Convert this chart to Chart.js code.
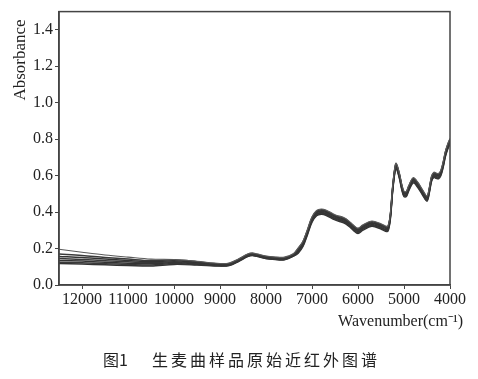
<!DOCTYPE html>
<html><head><meta charset="utf-8">
<script src="https://cdn.jsdelivr.net/npm/chart.js@4/dist/chart.umd.min.js"></script>
<style>
html,body{margin:0;padding:0;background:#fff;}
#wrap{position:relative;width:478px;height:379px;}
#cap{position:absolute;top:347px;left:0;width:478px;height:22px;font-family:"Noto Sans CJK SC";font-size:16px;color:#222;}
#cap span{position:absolute;top:0;white-space:nowrap;}
</style></head><body>
<div id="wrap"><canvas id="c" width="478" height="379"></canvas>
<div id="cap"><span style="left:103px">图1</span><span style="left:152px;letter-spacing:3px">生麦曲样品原始近红外图谱</span></div></div>
<script>
const wavenumbers = [12500,12000,11500,11000,10500,10000,9500,9000,8800,8600,8400,8300,8200,8000,7800,7600,7400,7300,7200,7100,7000,6900,6800,6700,6500,6300,6200,6100,6000,5900,5700,5500,5400,5350,5300,5250,5200,5170,5100,5050,5000,4950,4900,4800,4700,4600,4500,4450,4400,4350,4300,4250,4200,4150,4100,4050,4000];
const sample1 = [.196,.18,.165,.153,.142,.14,.13,.118,.121,.143,.17,.176,.171,.159,.154,.153,.173,.204,.239,.304,.374,.409,.417,.412,.386,.369,.352,.329,.312,.329,.351,.336,.324,.324,.384,.534,.644,.669,.614,.554,.514,.514,.544,.589,.564,.524,.489,.534,.599,.619,.614,.612,.629,.674,.734,.774,.804];
const sample2 = [.17,.162,.151,.142,.134,.138,.128,.115,.118,.14,.167,.173,.168,.156,.151,.15,.17,.2,.235,.3,.37,.405,.413,.408,.382,.365,.348,.325,.308,.325,.347,.332,.32,.32,.38,.53,.64,.665,.61,.55,.51,.51,.54,.585,.56,.52,.485,.53,.595,.615,.61,.608,.625,.67,.73,.77,.8];
const sample3 = [.157,.151,.142,.135,.128,.133,.124,.113,.116,.138,.165,.171,.166,.154,.149,.148,.168,.195,.23,.295,.365,.4,.408,.403,.377,.36,.343,.32,.303,.32,.342,.327,.315,.315,.375,.525,.635,.66,.605,.545,.505,.505,.535,.58,.555,.515,.48,.525,.59,.61,.605,.603,.62,.665,.725,.765,.795];
const sample4 = [.145,.14,.133,.127,.122,.128,.12,.11,.113,.135,.162,.168,.163,.151,.146,.145,.165,.19,.225,.29,.36,.395,.403,.398,.372,.355,.338,.315,.298,.315,.337,.322,.31,.31,.37,.52,.63,.655,.6,.54,.5,.5,.53,.575,.55,.51,.475,.52,.585,.605,.6,.598,.615,.66,.72,.76,.79];
const sample5 = [.135,.131,.125,.12,.116,.123,.116,.107,.11,.132,.159,.165,.16,.148,.143,.142,.162,.185,.22,.285,.355,.39,.398,.393,.367,.35,.333,.31,.293,.31,.332,.317,.305,.305,.365,.515,.625,.65,.595,.535,.495,.495,.525,.57,.545,.505,.47,.515,.58,.6,.595,.593,.61,.655,.715,.755,.785];
const sample6 = [.125,.122,.117,.113,.11,.118,.112,.105,.108,.13,.157,.163,.158,.146,.141,.14,.16,.18,.215,.28,.35,.385,.393,.388,.362,.345,.328,.305,.288,.305,.327,.312,.3,.3,.36,.51,.62,.645,.59,.53,.49,.49,.52,.565,.54,.5,.465,.51,.575,.595,.59,.588,.605,.65,.71,.75,.78];
const sample7 = [.118,.115,.111,.107,.104,.113,.11,.104,.107,.129,.156,.162,.157,.145,.14,.139,.159,.175,.21,.275,.345,.38,.388,.383,.357,.34,.323,.3,.283,.3,.322,.307,.295,.295,.355,.505,.615,.64,.585,.525,.485,.485,.515,.56,.535,.495,.46,.505,.57,.59,.585,.583,.6,.645,.705,.745,.775];
const xTicks = [12000,11000,10000,9000,8000,7000,6000,5000,4000];
const yTicks = [0,0.2,0.4,0.6,0.8,1.0,1.2,1.4];
const seriesList = [sample1,sample2,sample3,sample4,sample5,sample6,sample7];
const colors = ['#5a5a5a','#3a3a3a','#333','#3a3a3a','#333','#3a3a3a','#333'];

const datasets = seriesList.map((s,i)=>({
  data: s.map((v,j)=>({x:wavenumbers[j],y:v})),
  borderColor: colors[i], borderWidth: i===0?1.1:1.5, pointRadius: 0, tension: 0.35, fill:false
}));
const serif = '"Liberation Serif","Times New Roman",serif';
const frame = {
  id:'frame',
  afterDraw(chart){
    const {ctx, chartArea:a} = chart;
    ctx.save();
    ctx.strokeStyle='#444'; ctx.lineWidth=1.5;
    ctx.strokeRect(a.left,a.top,a.right-a.left,a.bottom-a.top);
    ctx.fillStyle='#222';
    ctx.font='16px '+serif;
    ctx.textAlign='right'; ctx.textBaseline='middle';
    ctx.fillText('Wavenumber(cm\u207B\u00B9)', a.right+13, a.bottom+37);
    ctx.font='17px '+serif;
    ctx.translate(21, 60); ctx.rotate(-Math.PI/2);
    ctx.textAlign='center';
    ctx.fillText('Absorbance',0,0);
    ctx.restore();
  }
};
new Chart(document.getElementById('c'),{
  type:'line',
  data:{datasets},
  options:{
    responsive:false, animation:false,
    layout:{padding:{top:10,right:28,left:0,bottom:0}},
    plugins:{legend:{display:false},tooltip:{enabled:false}},
    scales:{
      x:{type:'linear',reverse:true,min:4000,max:12500,
        afterBuildTicks(s){s.ticks=xTicks.map(v=>({value:v}));},
        afterFit(s){s.height=94;},
        grid:{drawOnChartArea:false,tickLength:4,tickColor:'#444'},
        border:{color:'#444',width:1.5},
        ticks:{color:'#222',font:{family:serif,size:16},padding:1,maxRotation:0,autoSkip:false,callback:v=>String(v)}
      },
      y:{type:'linear',min:0,max:1.5,
        afterBuildTicks(s){s.ticks=yTicks.map(v=>({value:v}));},
        afterFit(s){s.width=59;},
        grid:{drawOnChartArea:false,tickLength:4,tickColor:'#444'},
        border:{color:'#444',width:1.5},
        ticks:{color:'#222',font:{family:serif,size:16},padding:2,callback:v=>Number(v).toFixed(1)}
      }
    }
  },
  plugins:[frame]
});
</script></body></html>
